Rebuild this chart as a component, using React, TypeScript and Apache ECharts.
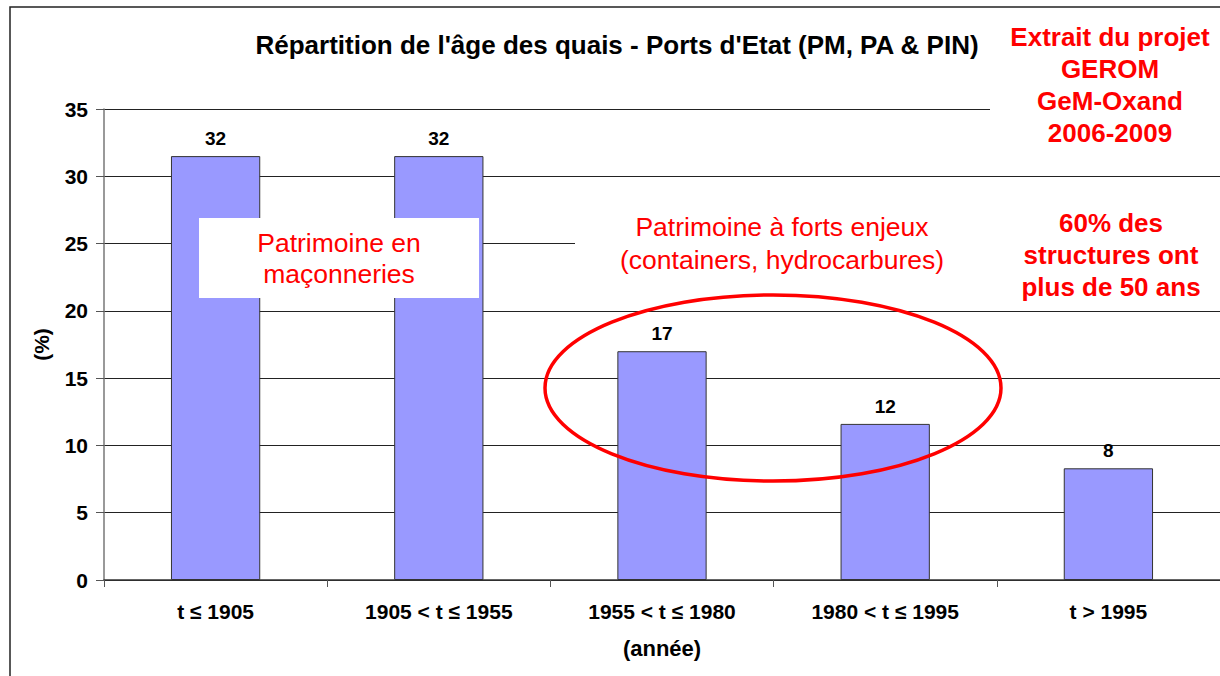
import React, { useEffect, useRef } from "react";
import * as echarts from "echarts";

const categories = ["t ≤ 1905", "1905 < t ≤ 1955", "1955 < t ≤ 1980", "1980 < t ≤ 1995", "t > 1995"];
const values = [31.5, 31.5, 17.0, 11.6, 8.3];
const yTicks = { min: 0, max: 35, interval: 5 };
const titleText = "Répartition de l'âge des quais - Ports d'Etat (PM, PA & PIN)";
const sourceNote = "Extrait du projet\nGEROM\nGeM-Oxand\n2006-2009";
const ageNote = "60% des\nstructures ont\nplus de 50 ans";
const stakesNote = "Patrimoine à forts enjeux\n(containers, hydrocarbures)";
const masonryNote = "Patrimoine en\nmaçonneries";

const FONT = '"Liberation Sans", Arial, Helvetica, sans-serif';

export default function App() {
  const ref = useRef<HTMLDivElement>(null);

  useEffect(() => {
    if (!ref.current) return;
    const chart = echarts.init(ref.current, undefined, { renderer: "svg" });
    const txt = (text: string, x: number, y: number, size: number, bold: boolean, color: string, lh: number) => ({
      type: "text",
      x,
      y,
      z: 110,
      style: {
        text,
        fill: color,
        font: `${bold ? "bold " : ""}${size}px ${FONT}`,
        align: "center",
        verticalAlign: "middle",
        textAlign: "center",
        textVerticalAlign: "middle",
        lineHeight: lh,
      },
    });
    const whiteRect = (x: number, y: number, w: number, h: number) => ({
      type: "rect",
      z: 100,
      shape: { x, y, width: w, height: h },
      style: { fill: "#ffffff", stroke: "none" },
    });
    chart.setOption({
      animation: false,
      backgroundColor: "#ffffff",
      textStyle: { fontFamily: FONT },
      grid: { left: 104, top: 109, width: 1117, height: 471, containLabel: false },
      xAxis: {
        type: "category",
        data: categories,
        name: "(année)",
        nameLocation: "middle",
        nameGap: 57,
        nameTextStyle: { fontSize: 22, fontWeight: "bold", color: "#000", fontFamily: FONT },
        axisLine: { show: true, lineStyle: { color: "#333", width: 1.5 } },
        axisTick: { show: true, length: 7, lineStyle: { color: "#555" } },
        axisLabel: { fontSize: 21, fontWeight: "bold", color: "#000", margin: 21, fontFamily: FONT },
      },
      yAxis: {
        type: "value",
        min: yTicks.min,
        max: yTicks.max,
        interval: yTicks.interval,
        name: "(%)",
        nameLocation: "middle",
        nameRotate: 90,
        nameGap: 52,
        nameTextStyle: { fontSize: 21, fontWeight: "bold", color: "#000", fontFamily: FONT },
        axisLine: { show: true, lineStyle: { color: "#777", width: 1.5 } },
        axisTick: { show: true, length: 8, lineStyle: { color: "#555" } },
        axisLabel: { fontSize: 21, fontWeight: "bold", color: "#000", margin: 16, fontFamily: FONT },
        splitLine: { show: true, lineStyle: { color: "#222", width: 1 } },
      },
      series: [
        {
          type: "bar",
          data: values,
          barWidth: "40%",
          itemStyle: { color: "#9999FF", borderColor: "#333", borderWidth: 1 },
          label: {
            show: true,
            position: "top",
            distance: 8,
            fontSize: 19,
            fontWeight: "bold",
            color: "#000",
            fontFamily: FONT,
            formatter: (p: any) => String(Math.round(p.value)),
          },
        },
      ],
      graphic: [
        {
          type: "rect",
          z: 120,
          shape: { x: 10, y: 7, width: 1240, height: 700 },
          style: { fill: "none", stroke: "#222", lineWidth: 1.5 },
        },
        whiteRect(990, 14, 230, 152),
        whiteRect(575, 205, 645, 76),
        whiteRect(1000, 200, 220, 104),
        whiteRect(199, 218, 280, 80),
        txt(titleText, 617, 45, 26, true, "#000", 30),
        txt(sourceNote, 1110, 85, 26, true, "#ff0000", 32),
        txt(ageNote, 1111, 255, 26, true, "#ff0000", 32),
        txt(stakesNote, 782, 243, 26.5, false, "#ff0000", 33),
        txt(masonryNote, 339, 258, 26.5, false, "#ff0000", 31),
        {
          type: "ellipse",
          z: 115,
          shape: { cx: 773, cy: 388, rx: 228, ry: 93 },
          style: { fill: "none", stroke: "#ff0000", lineWidth: 3.5 },
        },
      ],
    });
    return () => chart.dispose();
  }, []);

  return <div ref={ref} style={{ position: "absolute", left: 0, top: 0, width: 1220, height: 676 }} />;
}
